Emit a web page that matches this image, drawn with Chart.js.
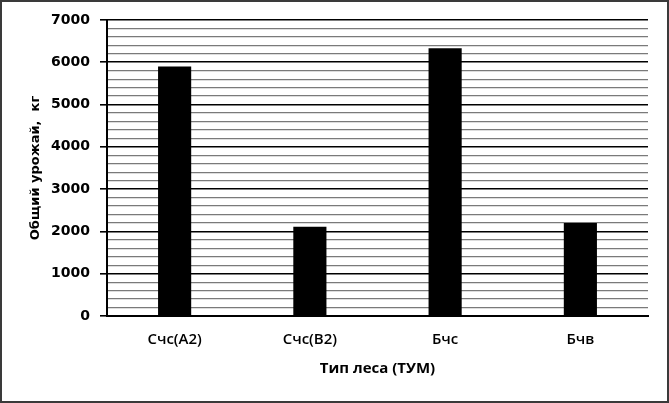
<!DOCTYPE html>
<html><head><meta charset="utf-8">
<script src="https://cdn.jsdelivr.net/npm/chart.js@4/dist/chart.umd.min.js"></script>
<style>html,body{margin:0;padding:0;background:#fff}#wrap{width:669px;height:403px}</style>
</head><body><div id="wrap"><canvas id="c" width="669" height="403"></canvas></div>
<script>
const categories = ["Счс(А2)", "Счс(В2)", "Бчс", "Бчв"];
const harvest = [5900, 2110, 6330, 2200];
const yMin = 0, yMax = 7000, yStep = 200, yMajor = 1000;
const xTitle = "Тип леса (ТУМ)";
const yTitle = "Общий урожай,  кг";

const frame = {
  id: 'frame',
  beforeDraw(chart){
    const c = chart.ctx;
    c.save(); c.fillStyle='#fff'; c.fillRect(0,0,chart.width,chart.height);
    c.strokeStyle='#3a3a3a'; c.lineWidth=2; c.strokeRect(1,1,chart.width-2,chart.height-2);
    c.restore();
  }
};

new Chart(document.getElementById('c'), {
  type: 'bar',
  data: { labels: categories, datasets: [{ data: harvest, backgroundColor: '#000', borderWidth: 0, categoryPercentage: 1, barPercentage: 0.245 }] },
  options: {
    responsive: false, animation: false, devicePixelRatio: 1,
    layout: { padding: { top: 20, right: 21, left: 24, bottom: 0 } },
    plugins: { legend: { display: false }, tooltip: { enabled: false } },
    scales: {
      x: {
        grid: { display: false, drawTicks: false },
        border: { color: '#000', width: 2 },
        ticks: { color: '#000', font: { family: 'Open Sans', weight: '600', size: 15 }, padding: 15 },
        title: { display: true, text: xTitle, color: '#000', font: { family: 'Open Sans', weight: '700', size: 15 }, padding: { top: 4, bottom: 25 } },
        afterFit(s){ s.height = 87; }
      },
      y: {
        min: yMin, max: yMax,
        ticks: { stepSize: yStep, color: '#000', font: { family: 'DejaVu Sans', weight: 'bold', size: 14 }, padding: 10,
          callback: v => (v % yMajor === 0 ? String(v) : '') , autoSkip: false },
        grid: {
          color: ctx => (ctx.tick && ctx.tick.value % yMajor === 0) ? '#000' : '#7a7a7a',
          lineWidth: ctx => (ctx.tick && ctx.tick.value % yMajor === 0) ? 1.6 : 1.3,
          tickColor: ctx => (ctx.tick && ctx.tick.value % yMajor === 0) ? '#000' : 'rgba(0,0,0,0)',
          tickLength: 7
        },
        border: { color: '#000', width: 2 },
        title: { display: true, text: yTitle, color: '#000', font: { family: 'DejaVu Sans', weight: 'bold', size: 13 }, padding: { top: 4, bottom: 4 } },
        afterFit(s){ s.width = 83; }
      }
    }
  },
  plugins: [frame]
});
</script></body></html>
